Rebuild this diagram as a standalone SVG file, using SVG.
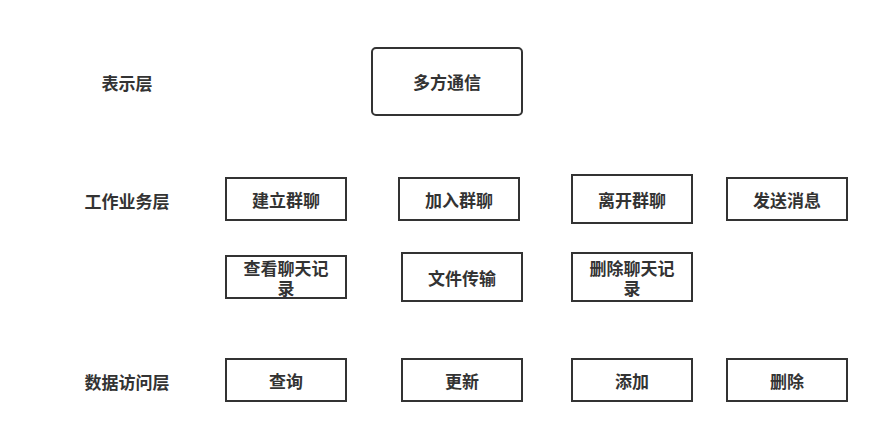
<svg xmlns="http://www.w3.org/2000/svg" width="879" height="433" viewBox="0 0 879 433">
<style>
.box{fill:#fff;stroke:#333;stroke-width:2}
.t{font-family:"Noto Sans CJK SC","Noto Sans",sans-serif;font-size:17px;font-weight:bold;fill:#333;text-anchor:middle;dominant-baseline:central}
</style>
<rect width="879" height="433" fill="#fff"/>
<g id="labels">
<text class="t" x="127" y="82">表示层</text>
<text class="t" x="127" y="200">工作业务层</text>
<text class="t" x="127" y="381">数据访问层</text>
</g>
<g id="n1"><rect class="box" x="372" y="48" width="150" height="67" rx="4"/><text class="t" x="447" y="81">多方通信</text></g>
<g id="n2"><rect class="box" x="226" y="178" width="120" height="42"/><text class="t" x="286" y="199">建立群聊</text></g>
<g id="n3"><rect class="box" x="399" y="178" width="120" height="42"/><text class="t" x="459" y="199">加入群聊</text></g>
<g id="n4"><rect class="box" x="572" y="175" width="120" height="48"/><text class="t" x="632" y="199">离开群聊</text></g>
<g id="n5"><rect class="box" x="727" y="178" width="120" height="42"/><text class="t" x="787" y="199">发送消息</text></g>
<g id="n6"><rect class="box" x="226" y="256" width="120" height="42"/><text class="t" x="286" y="267">查看聊天记<tspan x="286" dy="20">录</tspan></text></g>
<g id="n7"><rect class="box" x="402" y="253" width="120" height="48"/><text class="t" x="462" y="277">文件传输</text></g>
<g id="n8"><rect class="box" x="572" y="253" width="120" height="48"/><text class="t" x="632" y="267">删除聊天记<tspan x="632" dy="20">录</tspan></text></g>
<g id="n9"><rect class="box" x="226" y="359" width="120" height="42"/><text class="t" x="286" y="380">查询</text></g>
<g id="n10"><rect class="box" x="402" y="359" width="120" height="42"/><text class="t" x="462" y="380">更新</text></g>
<g id="n11"><rect class="box" x="572" y="359" width="120" height="42"/><text class="t" x="632" y="380">添加</text></g>
<g id="n12"><rect class="box" x="727" y="359" width="120" height="42"/><text class="t" x="787" y="380">删除</text></g>
<g id="connectors"></g>
</svg>
